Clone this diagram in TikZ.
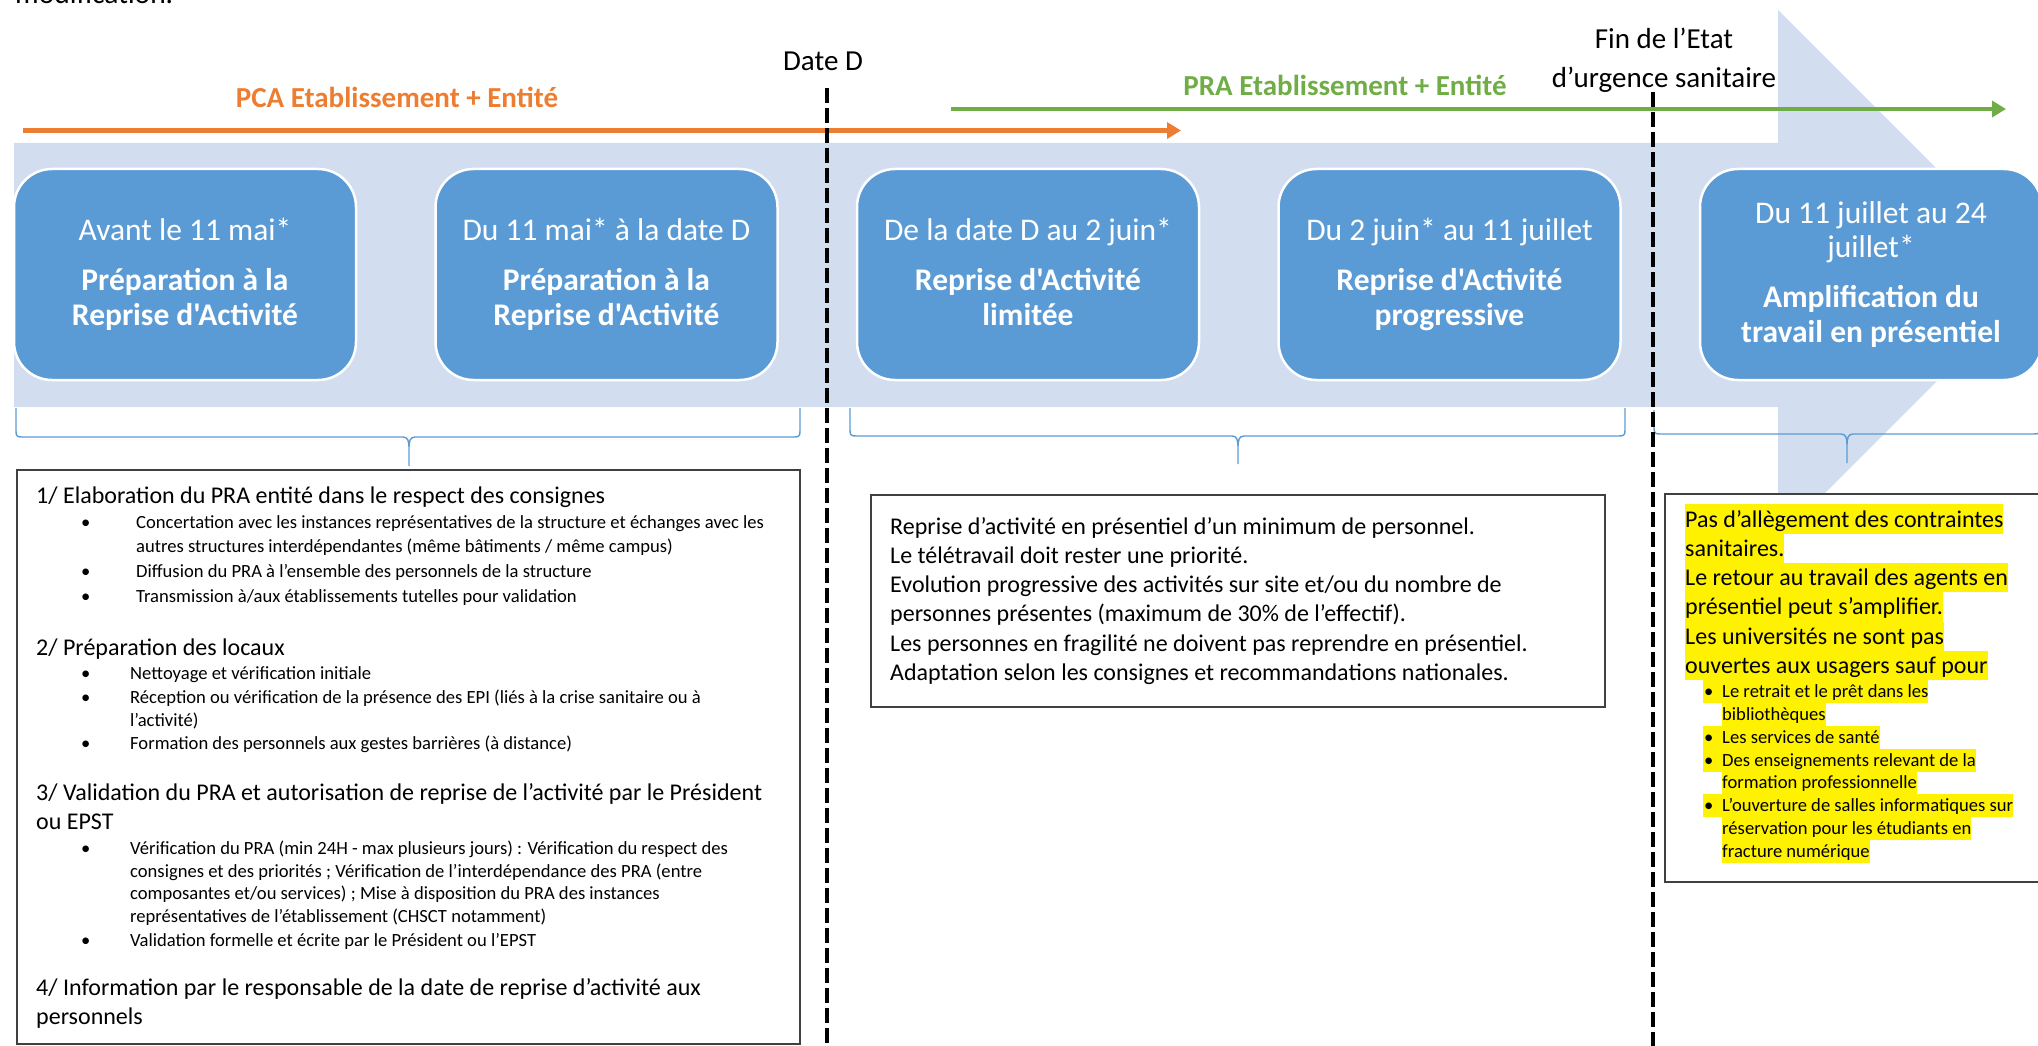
\documentclass[tikz,border=0pt]{standalone}
\usepackage{fontspec}
\setmainfont{Carlito}[Ligatures=TeXOff]
\usetikzlibrary{arrows.meta}

\definecolor{stepblue}{HTML}{5B9BD5}
\definecolor{bandblue}{HTML}{D2DEEF}
\definecolor{pcaorange}{HTML}{ED7D31}
\definecolor{pragreen}{HTML}{70AD47}
\definecolor{framegray}{HTML}{404040}

\newcommand{\setfs}[2]{\fontsize{#1}{#2}\selectfont}

% curly bracket under a group of phases: left, right, middle, top, bar level, tip
\newcommand{\spanbrace}[7]{%
  \coordinate (#7) at (#3,#6);
  \draw[spanbrace] (#1,#4) -- (#1,#5-6) .. controls (#1,#5-1) and (#1+1,#5) .. (#1+6,#5)
     -- (#3-6,#5) .. controls (#3-1,#5) and (#3,#5+4) .. (#3,#5+12) -- (#7)
     -- (#3,#5+12) .. controls (#3,#5+4) and (#3+1,#5) .. (#3+6,#5)
     -- (#2-6,#5) .. controls (#2-1,#5) and (#2,#5-1) .. (#2,#5-6) -- (#2,#4);}

\begin{document}
\begin{tikzpicture}[x=1pt,y=-1pt,
  phase/.style={draw=white, line width=2.5pt, fill=stepblue, rounded corners=38pt,
    minimum width=342pt, minimum height=211pt, inner sep=0pt, align=center,
    text=white, font={\setfs{31.5}{34.6}}},
  spanbrace/.style={draw=stepblue, line width=1.4pt},
  timeline/.style={line width=4.5pt, -{Triangle[length=14pt,width=16pt]}},
  milestone/.style={draw=black, line width=4pt, dash pattern=on 15pt off 5pt},
  infobox/.style={draw=framegray, line width=1.6pt, fill=white, inner sep=0pt, anchor=north west},
  hdr/.style={anchor=base west, inner sep=0pt, font={\setfs{24}{29}}},
  bulletline/.style={anchor=base west, inner sep=0pt, font={\setfs{18.6}{23}}},
  hl/.style={anchor=base west, fill=yellow, inner xsep=0pt, inner ysep=0pt,
    text height=22.6pt, text depth=6.8pt, font={\setfs{24}{29}}},
  hlitem/.style={anchor=base west, fill=yellow, inner xsep=0pt, inner ysep=0pt,
    text height=17pt, text depth=5.8pt, font={\setfs{18.6}{23}}},
  datelabel/.style={anchor=base, inner sep=0pt, font={\setfs{29}{35}}},
  phaselabel/.style={anchor=base, inner sep=0pt, font={\setfs{29}{35}\bfseries}},
]
\useasboundingbox (0,0) rectangle (2038,1046);
\clip (0,0) rectangle (2038,1046);

% last line of the preceding paragraph, cut by the page edge
\node[anchor=base west, inner sep=0pt, font={\setfs{29.5}{35}}] (prevline) at (15,3.5) {modification.};

% broad process arrow behind the phases
\fill[bandblue] (14,143) -- (1778,143) -- (1778,10) -- (2043,275) -- (1778,540)
  -- (1778,407) -- (14,407) -- cycle;

% plan labels and their spans
\node[phaselabel, text=pcaorange] (pca) at (397,107.5) {PCA Etablissement + Entité};
\node[phaselabel, text=pragreen] (pra) at (1345,96) {PRA Etablissement + Entité};
\coordinate (pcaS) at (23,130.5);
\coordinate (pcaE) at (1181,130.5);
\coordinate (praS) at (951,109);
\coordinate (praE) at (2006,109);
\draw[timeline, pcaorange] (pcaS) -- (pcaE);
\draw[timeline, pragreen] (praS) -- (praE);

% milestone captions
\node[datelabel] (dateD) at (823,71) {Date D};
\node[datelabel] (finA) at (1664,49) {Fin de l’Etat};
\node[datelabel] (finB) at (1664,87.5) {d’urgence sanitaire};

% phases
\node[phase] (p1) at (185,274.5) {\vphantom{lp}Avant le 11 mai*\\[15.4pt]
  \textbf{Préparation à la}\\ \textbf{Reprise d'Activité}\vphantom{lp}};
\node[phase] (p2) at (606.5,274.5) {\vphantom{lp}Du 11 mai* à la date D\\[15.4pt]
  \textbf{Préparation à la}\\ \textbf{Reprise d'Activité}\vphantom{lp}};
\node[phase] (p3) at (1028,274.5) {\vphantom{lp}De la date D au 2 juin*\\[15.4pt]
  \textbf{Reprise d'Activité}\\ \textbf{limitée}\vphantom{lp}};
\node[phase] (p4) at (1449.5,274.5) {\vphantom{lp}Du 2 juin* au 11 juillet\\[15.4pt]
  \textbf{Reprise d'Activité}\\ \textbf{progressive}\vphantom{lp}};
\node[phase] (p5) at (1871,274.5) {\vphantom{lp}Du 11 juillet au 24\\ juillet*\\[15.4pt]
  \textbf{Amplification du}\\ \textbf{travail en présentiel}\vphantom{lp}};

% brackets grouping the phases
\spanbrace{16}{800}{409}{408}{437}{466}{tipA}
\spanbrace{850}{1625}{1238}{408}{436}{464}{tipB}
\spanbrace{1654}{2040}{1847}{410}{434}{463}{tipC}

% detail boxes
\node[infobox, minimum width=783pt, minimum height=574pt] (leftbox) at (16,469) {};
\node[infobox, minimum width=734pt, minimum height=212pt] (midbox) at (870,494) {};
\node[infobox, minimum width=400pt, minimum height=388pt] (rightbox) at (1664,493) {};

% preparation steps
\node[hdr] (s1) at (36,503) {1/ Elaboration du PRA entité dans le respect des consignes};
\node[bulletline] (s1a) at (81,528) {\makebox[55pt][l]{•}Concertation avec les instances représentatives de la structure et échanges avec les};
\node[bulletline] (s1a2) at (136,552) {autres structures interdépendantes (même bâtiments / même campus)};
\node[bulletline] (s1b) at (81,577) {\makebox[55pt][l]{•}Diffusion du PRA à l’ensemble des personnels de la structure};
\node[bulletline] (s1c) at (81,602) {\makebox[55pt][l]{•}Transmission à/aux établissements tutelles pour validation};

\node[hdr] (s2) at (36,655) {2/ Préparation des locaux};
\node[bulletline] (s2a) at (81,679) {\makebox[49pt][l]{•}Nettoyage et vérification initiale};
\node[bulletline] (s2b) at (81,703) {\makebox[49pt][l]{•}Réception ou vérification de la présence des EPI (liés à la crise sanitaire ou à};
\node[bulletline] (s2b2) at (130,726) {l’activité)};
\node[bulletline] (s2c) at (81,749) {\makebox[49pt][l]{•}Formation des personnels aux gestes barrières (à distance)};

\node[hdr] (s3) at (36,800) {3/ Validation du PRA et autorisation de reprise de l’activité par le Président};
\node[hdr] (s3l2) at (36,829) {ou EPST};
\node[bulletline] (s3a) at (81,854) {\makebox[49pt][l]{•}Vérification du PRA (min 24H - max plusieurs jours) : Vérification du respect des};
\node[bulletline] (s3a2) at (130,877) {consignes et des priorités ; Vérification de l’interdépendance des PRA (entre};
\node[bulletline] (s3a3) at (130,899.5) {composantes et/ou services) ; Mise à disposition du PRA des instances};
\node[bulletline] (s3a4) at (130,922.5) {représentatives de l’établissement (CHSCT notamment)};
\node[bulletline] (s3b) at (81,946) {\makebox[49pt][l]{•}Validation formelle et écrite par le Président ou l’EPST};

\node[hdr] (s4) at (36,995) {4/ Information par le responsable de la date de reprise d’activité aux};
\node[hdr] (s4l2) at (36,1024) {personnels};

% limited restart
\node[hdr] (m1) at (890,534) {Reprise d’activité en présentiel d’un minimum de personnel.};
\node[hdr] (m2) at (890,563.3) {Le télétravail doit rester une priorité.};
\node[hdr] (m3) at (890,592.6) {Evolution progressive des activités sur site et/ou du nombre de};
\node[hdr] (m4) at (890,621.9) {personnes présentes (maximum de 30\% de l’effectif).};
\node[hdr] (m5) at (890,651.2) {Les personnes en fragilité ne doivent pas reprendre en présentiel.};
\node[hdr] (m6) at (890,680.5) {Adaptation selon les consignes et recommandations nationales.};

% on-site work amplified
\node[hl] (r1) at (1685,527) {Pas d’allègement des contraintes};
\node[hl] (r2) at (1685,556.3) {sanitaires.};
\node[hl] (r3) at (1685,585.6) {Le retour au travail des agents en};
\node[hl] (r4) at (1685,614.9) {présentiel peut s’amplifier.};
\node[hl] (r5) at (1685,644.2) {Les universités ne sont pas};
\node[hl] (r6) at (1685,673.5) {ouvertes aux usagers sauf pour};
\node[hlitem] (ra) at (1703,697) {\makebox[19pt][l]{\hspace{1pt}•}Le retrait et le prêt dans les};
\node[hlitem] (ra2) at (1722,720) {bibliothèques};
\node[hlitem] (rb) at (1703,743) {\makebox[19pt][l]{\hspace{1pt}•}Les services de santé};
\node[hlitem] (rc) at (1703,766) {\makebox[19pt][l]{\hspace{1pt}•}Des enseignements relevant de la};
\node[hlitem] (rc2) at (1722,788.6) {formation professionnelle};
\node[hlitem] (rd) at (1703,811.4) {\makebox[19pt][l]{\hspace{1pt}•}L’ouverture de salles informatiques sur};
\node[hlitem] (rd2) at (1722,834.2) {réservation pour les étudiants en};
\node[hlitem] (rd3) at (1722,857) {fracture numérique};

% milestones
\coordinate (dTop) at (826.5,88);
\coordinate (dBot) at (826.5,1046);
\coordinate (fTop) at (1653,92);
\coordinate (fBot) at (1653,1046);
\draw[milestone] (dTop) -- (dBot);
\draw[milestone] (fTop) -- (fBot);
\end{tikzpicture}
\end{document}
